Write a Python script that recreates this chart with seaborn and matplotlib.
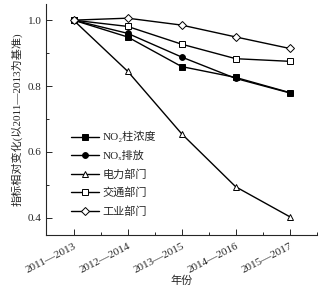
import pandas as pd
import matplotlib
matplotlib.use("Agg")
import matplotlib.pyplot as plt
import matplotlib.transforms as mtransforms
import seaborn as sns
from matplotlib.ticker import MultipleLocator

# data
periods = ["2011—2013", "2012—2014", "2013—2015", "2014—2016", "2015—2017"]
no2_column = [1.0, 0.949, 0.859, 0.826, 0.780]
no2_emission = [1.0, 0.960, 0.888, 0.823, 0.779]
power = [1.0, 0.845, 0.655, 0.494, 0.403]
transport = [1.0, 0.981, 0.927, 0.883, 0.875]
industry = [1.0, 1.006, 0.985, 0.949, 0.914]
series_names = ["NO₂柱浓度", "NOₓ排放", "电力部门", "交通部门", "工业部门"]

sns.set_style("ticks")
plt.rcParams['font.family'] = ['Liberation Serif', 'DejaVu Serif', 'Noto Sans CJK SC']

fig = plt.figure(figsize=(3.25, 2.9), dpi=100)
ax = fig.add_axes([0.143, 0.19, 0.832, 0.795])

styles = [
    ("s", "black"),
    ("o", "black"),
    ("^", "white"),
    ("s", "white"),
    ("D", "white"),
]
all_vals = [no2_column, no2_emission, power, transport, industry]
for name, vals, (mk, fc) in zip(series_names, all_vals, styles):
    df = pd.DataFrame({"x": range(len(periods)), "y": vals})
    ms = 3.6 if mk == "D" else 4.2
    sns.lineplot(data=df, x="x", y="y", ax=ax, color="black", lw=1.0,
                 marker=mk, markersize=ms, markerfacecolor=fc,
                 markeredgecolor="black", markeredgewidth=0.7, label=name)

ax.set_xlim(-0.5, 4.5)
ax.set_ylim(0.348, 1.048)
ax.set_xticks(range(len(periods)))
ax.set_xticklabels(periods, rotation=27, ha="right", rotation_mode="anchor",
                   fontsize=8)
# nudge the rotated labels to the right, like the source figure
shift = mtransforms.ScaledTranslation(11 / 100, 0, fig.dpi_scale_trans)
for lbl in ax.get_xticklabels():
    lbl.set_transform(lbl.get_transform() + shift)
ax.xaxis.set_minor_locator(MultipleLocator(0.5))
ax.yaxis.set_major_locator(MultipleLocator(0.2))
ax.yaxis.set_minor_locator(MultipleLocator(0.1))
ax.yaxis.set_major_formatter(matplotlib.ticker.FormatStrFormatter('%.1f'))
ax.tick_params(axis="both", which="major", direction="in", length=4, width=0.7)
ax.tick_params(axis="y", labelsize=8)
ax.tick_params(axis="both", which="minor", direction="in", length=2, width=0.7)
ax.tick_params(axis="x", pad=5)

for s in ["top", "right"]:
    ax.spines[s].set_visible(False)
for s in ["left", "bottom"]:
    ax.spines[s].set_linewidth(0.8)

ax.set_xlabel("年份", fontsize=8, labelpad=0)
ax.set_ylabel("指标相对变化(以2011—2013为基准)", fontsize=8, labelpad=4)

ax.legend(loc="lower left", bbox_to_anchor=(0.052, 0.035), frameon=False,
          fontsize=8, handlelength=2.6, labelspacing=0.72, handletextpad=0.3)

fig.savefig("out.png", dpi=100)
